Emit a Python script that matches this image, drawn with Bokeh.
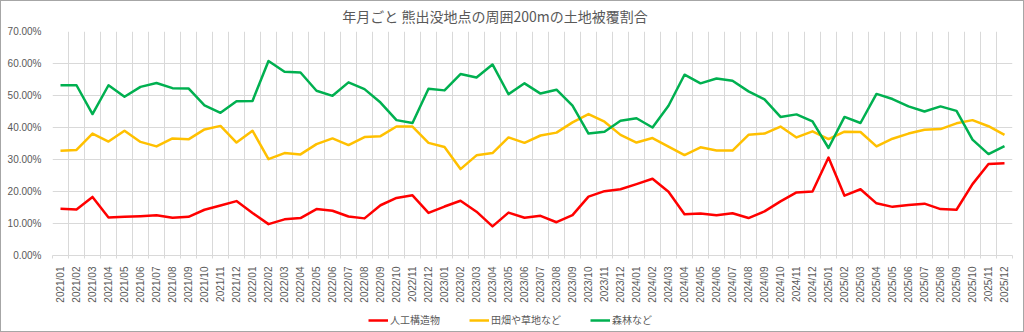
from bokeh.plotting import figure
from bokeh.layouts import column
from bokeh.models import (ColumnDataSource, FixedTicker, PrintfTickFormatter,
                          Range1d, Legend, LegendItem, Div)
from bokeh.embed import file_html
from bokeh.resources import INLINE

# 月ラベル
months = [f"{y}/{m:02d}" for y in range(2021, 2026) for m in range(1, 13)]

# 人工構造物 (%)
artificial = [14.6, 14.4, 18.3, 11.9, 12.1, 12.3, 12.6, 11.8, 12.1, 14.3, 15.6, 17.0,
              13.3, 9.8, 11.3, 11.7, 14.5, 14.0, 12.2, 11.6, 15.7, 18.0, 18.8, 13.3,
              15.3, 17.1, 13.7, 9.1, 13.4, 11.8, 12.4, 10.4, 12.6, 18.4, 20.1, 20.7,
              22.3, 24.0, 19.9, 12.9, 13.1, 12.6, 13.2, 11.7, 13.8, 16.9, 19.7, 20.0,
              30.6, 18.7, 20.7, 16.3, 15.2, 15.8, 16.2, 14.5, 14.3, 22.3, 28.6, 28.8]

# 田畑や草地など (%)
farmland = [32.7, 33.0, 38.1, 35.6, 39.0, 35.5, 34.1, 36.6, 36.3, 39.4, 40.5, 35.3,
            39.0, 30.1, 32.0, 31.6, 34.8, 36.6, 34.5, 37.0, 37.3, 40.3, 40.3, 35.2,
            33.9, 27.0, 31.3, 32.0, 36.9, 35.2, 37.5, 38.4, 41.6, 44.2, 41.8, 37.7,
            35.3, 36.7, 34.0, 31.4, 33.8, 32.8, 32.8, 37.7, 38.1, 40.3, 36.9, 38.8,
            36.4, 38.7, 38.6, 34.1, 36.5, 38.1, 39.3, 39.5, 41.3, 42.3, 40.4, 37.7]

# 森林など (%)
forest = [53.2, 53.2, 44.2, 53.2, 49.6, 52.7, 53.9, 52.3, 52.2, 46.9, 44.6, 48.2,
          48.3, 60.8, 57.4, 57.2, 51.5, 49.9, 54.1, 52.0, 47.8, 42.3, 41.4, 52.1,
          51.6, 56.7, 55.6, 59.7, 50.4, 53.8, 50.6, 51.8, 46.8, 38.1, 38.7, 42.1,
          42.9, 40.0, 46.8, 56.5, 53.8, 55.3, 54.6, 51.3, 48.8, 43.3, 44.1, 41.9,
          33.6, 43.3, 41.4, 50.5, 48.9, 46.6, 45.0, 46.6, 45.2, 36.2, 31.7, 34.2]

chart_title = "年月ごと 熊出没地点の周囲200mの土地被覆割合"
series_cols = ["artificial", "farmland", "forest"]
series_names = ["人工構造物", "田畑や草地など", "森林など"]
series_colors = ["#FF0000", "#FFC000", "#00B050"]
y_ticks = [0, 10, 20, 30, 40, 50, 60, 70]

idx = list(range(len(months)))
source = ColumnDataSource(data=dict(x=idx, artificial=artificial,
                                    farmland=farmland, forest=forest))

JP_FONT = "Noto Sans CJK JP"
NUM_FONT = "Liberation Sans"
TEXT_COLOR = "#595959"
GRID_COLOR = "#d9d9d9"
W = 1022
LEFT, RIGHT = 51, 11

# タイトル (HTML テキスト)
top = Div(text=chart_title, width=W, height=24, margin=0,
          styles={"font-family": JP_FONT, "font-size": "14px",
                  "color": TEXT_COLOR, "text-align": "center",
                  "line-height": "18px", "padding-top": "6px",
                  "padding-right": "34px", "box-sizing": "border-box",
                  "background-color": "white", "white-space": "nowrap"})

# 本体
p = figure(width=W, height=280, output_backend="svg", toolbar_location=None,
           x_range=Range1d(-0.5, len(months) - 0.5),
           y_range=Range1d(y_ticks[0], y_ticks[-1]),
           min_border_left=LEFT, min_border_right=RIGHT,
           min_border_top=6, min_border_bottom=50)
p.outline_line_color = None
p.background_fill_color = "white"
p.border_fill_color = "white"

# x 軸: 月ラベルは区間の中央、目盛線と区切り線は区間の境目
boundaries = [i - 0.5 for i in range(len(months) + 1)]
p.xaxis.ticker = FixedTicker(ticks=idx, minor_ticks=boundaries)
p.xaxis.major_label_overrides = {i: m for i, m in enumerate(months)}
p.xaxis.major_label_orientation = 3.14159265 / 2
p.xaxis.major_label_text_font = NUM_FONT
p.xaxis.major_label_text_font_size = "10px"
p.xaxis.major_label_text_color = TEXT_COLOR
p.xaxis.major_label_standoff = 8
p.xaxis.major_tick_line_color = None
p.xaxis.major_tick_out = 0
p.xaxis.minor_tick_line_color = GRID_COLOR
p.xaxis.minor_tick_in = 0
p.xaxis.minor_tick_out = 3
p.xaxis.axis_line_color = GRID_COLOR
p.xgrid.ticker = FixedTicker(ticks=boundaries)
p.xgrid.grid_line_color = GRID_COLOR

# y 軸: パーセント表示
p.yaxis.ticker = FixedTicker(ticks=y_ticks)
p.yaxis.formatter = PrintfTickFormatter(format="%.2f%%")
p.yaxis.major_label_text_font = NUM_FONT
p.yaxis.major_label_text_font_size = "10px"
p.yaxis.major_label_text_color = TEXT_COLOR
p.yaxis.major_label_standoff = 11
p.yaxis.major_tick_line_color = None
p.yaxis.major_tick_out = 0
p.yaxis.minor_tick_line_color = None
p.yaxis.axis_line_color = None
p.ygrid.grid_line_color = GRID_COLOR

for col, color in zip(series_cols, series_colors):
    p.line("x", col, source=source, line_color=color, line_width=2.5,
           line_join="round")

# 凡例帯 (見本線だけを使うため、線は表示範囲の外に置く)
leg_fig = figure(width=W, height=26, output_backend="svg",
                 toolbar_location=None,
                 x_range=Range1d(0, 1), y_range=Range1d(0, 1),
                 x_axis_location=None, y_axis_location=None,
                 min_border_left=LEFT, min_border_right=RIGHT,
                 min_border_top=0, min_border_bottom=0,
                 outline_line_color=None)
leg_fig.grid.visible = False
leg_fig.background_fill_color = "white"
leg_fig.border_fill_color = "white"
offscreen = ColumnDataSource(data=dict(x=[-50, -40], y=[-50, -50]))
items = []
for name, color in zip(series_names, series_colors):
    r = leg_fig.line("x", "y", source=offscreen, line_color=color, line_width=2.5)
    items.append(LegendItem(label=name, renderers=[r]))
legend = Legend(items=items, orientation="horizontal", location=(316, 4),
                glyph_width=20, glyph_height=12, label_height=12,
                label_standoff=2, spacing=29, padding=0, margin=0,
                label_text_font=JP_FONT, label_text_font_size="10px",
                label_text_color=TEXT_COLOR,
                border_line_color=None, background_fill_alpha=0)
leg_fig.add_layout(legend, "center")

layout = column(top, p, leg_fig, spacing=0)
layout.styles = {"border": "1px solid #a6a6a6", "background-color": "white"}

open("out.html", "w").write(file_html(layout, INLINE))
